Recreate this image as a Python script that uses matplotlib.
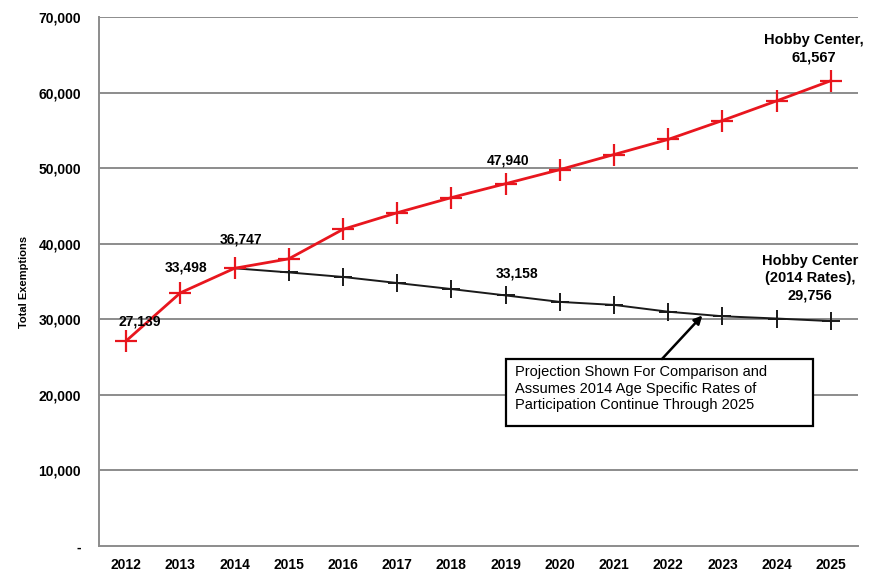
import numpy as np
import matplotlib.pyplot as plt
from matplotlib.patches import Rectangle

plt.rcParams['font.family'] = ['Liberation Sans', 'DejaVu Sans']

# anos e valores
years = ["2012", "2013", "2014", "2015", "2016", "2017", "2018",
         "2019", "2020", "2021", "2022", "2023", "2024", "2025"]
hobbyCenter = [27139, 33498, 36747, 38000, 41900, 44100, 46100,
               47940, 49800, 51800, 53800, 56300, 58900, 61567]
# projecao com taxas de 2014 (comeca em 2014)
hobby2014Rates = [np.nan, np.nan, 36747, 36200, 35600, 34800, 34000,
                  33158, 32300, 31900, 31000, 30400, 30100, 29756]
yTicks = [0, 10000, 20000, 30000, 40000, 50000, 60000, 70000]
yTickLabels = ["-", "10,000", "20,000", "30,000", "40,000", "50,000", "60,000", "70,000"]

x = np.arange(len(years))

fig = plt.figure(figsize=(8.71, 5.74), dpi=100)
ax = fig.add_axes([0.1137, 0.0488, 0.8713, 0.9216])

# grade horizontal
for t in yTicks[1:]:
    ax.axhline(t, color="#8c8c8c", lw=1.4, zorder=0)

ax.plot(x, hobby2014Rates, color="#1a1a1a", lw=1.4, marker="+", markersize=13,
        markeredgewidth=1.4, zorder=2)
ax.plot(x, hobbyCenter, color="#e8161e", lw=2.0, marker="+", markersize=16,
        markeredgewidth=1.6, zorder=3)

ax.set_xlim(-0.5, len(years) - 0.5)
ax.set_ylim(0, 70000)
ax.set_xticks(x)
ax.set_xticklabels(years, fontsize=10, fontweight="bold")
ax.set_yticks(yTicks)
ax.set_yticklabels(yTickLabels, fontsize=10, fontweight="bold")
ax.tick_params(length=0, pad=13)
ax.tick_params(axis="x", pad=9)

for s in ["top", "right"]:
    ax.spines[s].set_visible(False)
for s in ["left", "bottom"]:
    ax.spines[s].set_color("#8c8c8c")
    ax.spines[s].set_linewidth(1.4)

ax.set_ylabel("Total Exemptions", fontsize=8, fontweight="bold", labelpad=7)

# rotulos dos pontos
def label(i, serie, txt, dx, dy, fs=10):
    ax.annotate(txt, (x[i], serie[i]), xytext=(dx, dy), textcoords="offset points",
                ha="center", va="center", fontsize=fs, fontweight="bold", linespacing=1.3)

label(0, hobbyCenter, "27,139", 10, 14)
label(1, hobbyCenter, "33,498", 4, 18)
label(2, hobbyCenter, "36,747", 5, 21)
label(7, hobbyCenter, "47,940", 1.5, 17)
label(7, hobby2014Rates, "33,158", 8, 16)
label(13, hobbyCenter, "Hobby Center,\n61,567", -12, 23, 10.5)
label(13, hobby2014Rates, "Hobby Center\n(2014 Rates),\n29,756", -15, 31, 10.5)

# caixa explicativa com seta
ax.add_patch(Rectangle((0.536, 0.2268), 0.4047, 0.1267, transform=ax.transAxes,
                       fc="white", ec="black", lw=1.6, zorder=4))
ax.text(0.548, 0.2976, "Projection Shown For Comparison and\nAssumes 2014 Age Specific Rates of\nParticipation Continue Through 2025",
        transform=ax.transAxes, ha="left", va="center", fontsize=10.5, linespacing=1.2, zorder=5)
ax.annotate("", xy=(10.63, 30500), xytext=(0.7418, 0.3535), textcoords="axes fraction",
            arrowprops=dict(arrowstyle="-|>", color="black", lw=1.8, mutation_scale=12,
                            shrinkA=0, shrinkB=0), zorder=5)

plt.savefig("out.png", dpi=100)
